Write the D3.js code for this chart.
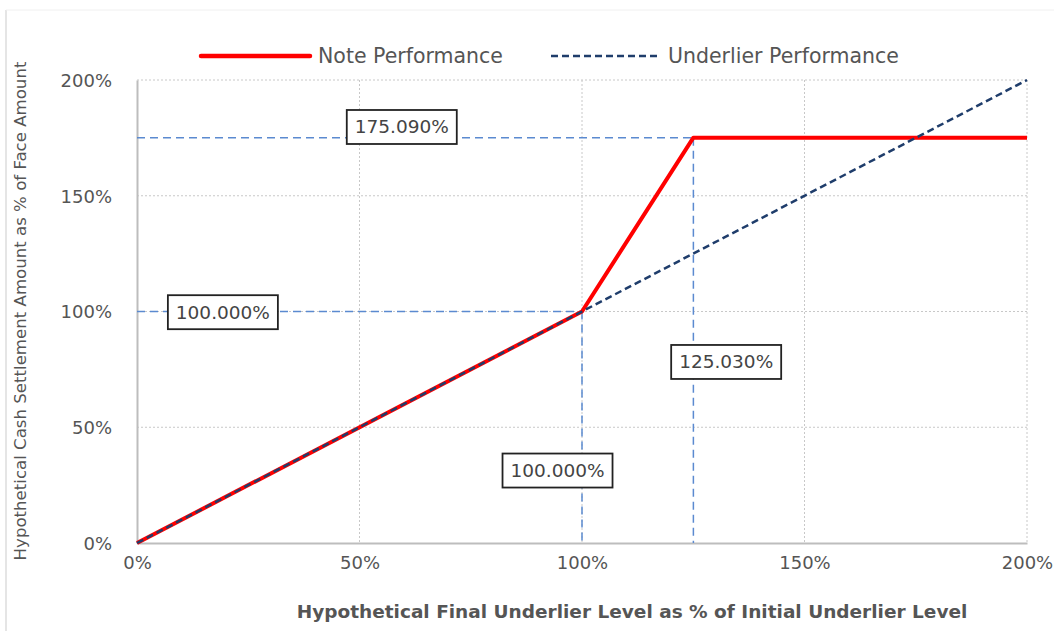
<!DOCTYPE html>
<html><head><meta charset="utf-8">
<script src="https://cdn.jsdelivr.net/npm/d3@7"></script>
<style>body{margin:0;background:#fff}svg{display:block}text{font-family:"DejaVu Sans",Verdana,sans-serif}</style>
</head><body>
<svg id="c" width="1054" height="631"></svg>
<script>
const xTicks = [0, 50, 100, 150, 200];
const yTicks = [0, 50, 100, 150, 200];
const underlierX = [0, 200];
const underlierY = [0, 200];
const noteX = [0, 100, 125.03, 200];
const noteY = [0, 100, 175.09, 175.09];
const seriesNames = ["Note Performance", "Underlier Performance"];
const refX = [100, 125.03];      // vertical reference lines
const refY = [100, 175.09];      // horizontal reference lines (paired with refX)
const boxLabels = ["175.090%", "100.000%", "125.030%", "100.000%"];

const svg = d3.select("#c");
const x = d3.scaleLinear().domain([0, 200]).range([137, 1027]);
const y = d3.scaleLinear().domain([0, 200]).range([543, 80]);

// frame
svg.append("line").attr("x1",6).attr("x2",6).attr("y1",10).attr("y2",631).attr("stroke","#ddd").attr("stroke-width",1.5);
svg.append("line").attr("x1",6).attr("x2",1054).attr("y1",10).attr("y2",10).attr("stroke","#f0f0f0");

// grid
const g = svg.append("g");
g.selectAll(".gx").data(xTicks.filter(d=>d>0)).join("line")
  .attr("x1",d=>x(d)).attr("x2",d=>x(d)).attr("y1",y(200)).attr("y2",y(0))
  .attr("stroke","#c8c8c8").attr("stroke-width",1).attr("stroke-dasharray","2,2");
g.selectAll(".gy").data(yTicks.filter(d=>d>0)).join("line")
  .attr("x1",x(0)).attr("x2",x(200)).attr("y1",d=>y(d)).attr("y2",d=>y(d))
  .attr("stroke","#c8c8c8").attr("stroke-width",1).attr("stroke-dasharray","2,2");

// axes
const xAxis = svg.append("g").attr("transform",`translate(0,${y(0)})`)
  .call(d3.axisBottom(x).tickValues(xTicks).tickSize(0).tickPadding(12).tickFormat(d=>d+"%"));
const yAxis = svg.append("g").attr("transform",`translate(${x(0)},0)`)
  .call(d3.axisLeft(y).tickValues(yTicks).tickSize(0).tickPadding(25).tickFormat(d=>d+"%"));
[xAxis,yAxis].forEach(a=>{
  a.select(".domain").attr("stroke","#bdbdbd").attr("stroke-width",2);
  a.selectAll("text").attr("font-size",18).attr("fill","#555").attr("font-family","DejaVu Sans");
});
xAxis.selectAll(".tick text").attr("dy","0.75em");
yAxis.selectAll(".tick text").attr("dy","0.35em");

// reference lines
const refCol = "#5b8ad0";
refX.forEach((vx,i)=>{
  svg.append("line").attr("x1",x(0)).attr("x2",x(vx)).attr("y1",y(refY[i])).attr("y2",y(refY[i]))
    .attr("stroke",refCol).attr("stroke-width",1.5).attr("stroke-dasharray","8,5");
  svg.append("line").attr("x1",x(vx)).attr("x2",x(vx)).attr("y1",y(refY[i])).attr("y2",y(0))
    .attr("stroke",refCol).attr("stroke-width",1.5).attr("stroke-dasharray","8,5");
});

// series
const line = d3.line().x(d=>x(d[0])).y(d=>y(d[1]));
svg.append("path").datum(noteX.map((v,i)=>[v,noteY[i]])).attr("d",line)
  .attr("fill","none").attr("stroke","#ff0000").attr("stroke-width",4).attr("stroke-linejoin","round");
svg.append("path").datum(underlierX.map((v,i)=>[v,underlierY[i]])).attr("d",line)
  .attr("fill","none").attr("stroke","#1f3d6b").attr("stroke-width",2.5).attr("stroke-dasharray","7,4");

// label boxes: anchor positions in data coords
const boxPos = [[59.5,179.7],[19.3,99.7],[132.4,78.2],[94.5,31.3]];
boxLabels.forEach((t,i)=>{
  const cx = x(boxPos[i][0]), cy = y(boxPos[i][1]);
  const w = 110, h = 34;
  svg.append("rect").attr("x",cx-w/2).attr("y",cy-h/2).attr("width",w).attr("height",h)
    .attr("fill","#fff").attr("stroke","#222").attr("stroke-width",1.8);
  svg.append("text").attr("x",cx).attr("y",cy).attr("dy","0.35em").attr("text-anchor","middle")
    .attr("font-size",18.5).attr("fill","#444").text(t);
});

// legend
svg.append("line").attr("x1",201).attr("x2",310).attr("y1",56).attr("y2",56).attr("stroke","#ff0000").attr("stroke-width",4.5).attr("stroke-linecap","round");
svg.append("text").attr("x",318).attr("y",56).attr("dy","0.35em").attr("font-size",20.5).attr("fill","#555").text(seriesNames[0]);
svg.append("line").attr("x1",551).attr("x2",657).attr("y1",56).attr("y2",56).attr("stroke","#1f3d6b").attr("stroke-width",2.5).attr("stroke-dasharray","7,4");
svg.append("text").attr("x",668).attr("y",56).attr("dy","0.35em").attr("font-size",20.5).attr("fill","#555").text(seriesNames[1]);

// axis titles
svg.append("text").attr("x",632).attr("y",618).attr("text-anchor","middle").attr("font-size",18.5)
  .attr("font-weight","bold").attr("fill","#555").text("Hypothetical Final Underlier Level as % of Initial Underlier Level");
svg.append("text").attr("transform","translate(26,311) rotate(-90)").attr("text-anchor","middle")
  .attr("font-size",16.6).attr("fill","#555").text("Hypothetical Cash Settlement Amount as % of Face Amount");
</script>
</body></html>
